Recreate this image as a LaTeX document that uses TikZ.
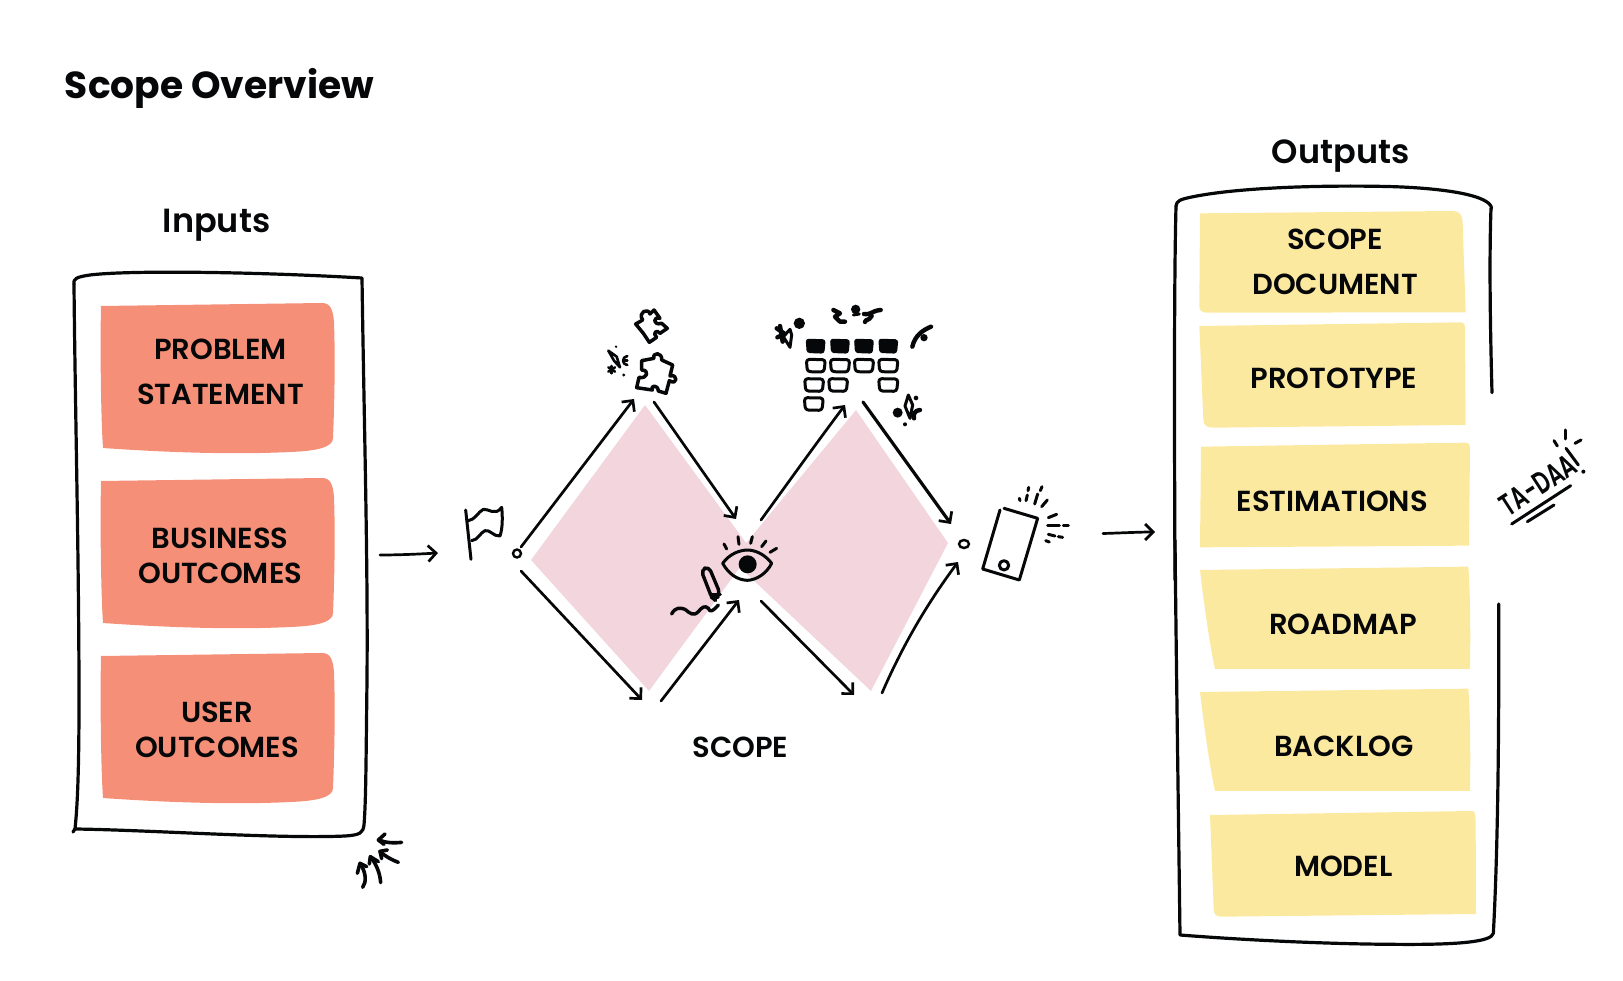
\documentclass[tikz,border=0pt]{standalone}
\usepackage{fontspec}
\usepackage{graphicx}
\usetikzlibrary{arrows.meta,shapes.geometric}
\setmainfont{Poppins}
\newfontfamily\pmed{Poppins SemiBold}
\newfontfamily\pbold{Poppins}[UprightFont=* Bold]
\definecolor{salmon}{HTML}{F58F78}
\definecolor{butter}{HTML}{FCE9A0}
\definecolor{petal}{HTML}{F3D5DE}
\definecolor{ink}{HTML}{050708}
\tikzset{
  x=1pt,y=-1pt,
  stickytext/.style={font=\pmed\fontsize{29}{45}\selectfont,align=center,inner sep=0pt,text=ink},
  stickytextb/.style={stickytext,font=\pmed\fontsize{29}{35}\selectfont},
  heading/.style={font=\pmed\fontsize{33.5}{40}\selectfont,anchor=base,inner sep=0pt,text=ink},
  sketch/.style={draw=ink,line width=3.2pt,line cap=round,line join=round},
  link/.style={draw=ink,line width=2.7pt,line cap=round,-{Straight Barb[length=8pt,width=16pt,line width=2.7pt]}},
  doodle/.style={draw=ink,line width=3pt,line cap=round,line join=round},
  puzzle/.style={draw=ink,line width=3.5pt,line cap=round,line join=round},
  heavy doodle/.style={draw=ink,line width=4.4pt,line cap=round,line join=round},
  thin doodle/.style={draw=ink,line width=2.6pt,line cap=round,line join=round},
  z3/.style={shift={(440,290)},scale=1/3},
  z4/.style={shift={(740,290)},scale=1/3},
  z6/.style={shift={(1160,120)},scale=1/3},
  z7/.style={shift={(1160,540)},scale=1/3},
  z8/.style={shift={(660,520)},scale=1/3},
  z9/.style={shift={(1480,420)},scale=1/3},
  z10/.style={shift={(330,810)},scale=1/3},
}
\newcommand{\salmonnote}[1]{%
  \fill[salmon,shift={(0,#1)}] (101,306) -- (322,303) .. controls (330,303) and (333,309) .. (334,322)
    .. controls (335,350) and (335,390) .. (333,438) .. controls (333,447) and (318,451) .. (290,452)
    .. controls (230,455) and (160,452) .. (103,448) .. controls (101,420) and (100,350) .. (101,306) -- cycle;}
\begin{document}
\begin{tikzpicture}
\useasboundingbox (0,0) rectangle (1623,981);
% titles
\node[heading,font=\pbold\fontsize{37.6}{44}\selectfont] (title) at (219.5,99) {Scope Overview};
\node[heading] (inputs) at (216.5,232.5) {Inputs};
\node[heading] (outputs) at (1340.7,164) {Outputs};
% inputs frame
\draw[sketch] (74,284) .. controls (73,279) and (76,277) .. (90,275) .. controls (130,270) and (260,272) .. (362,278)
  .. controls (364,420) and (368,560) .. (367,680) .. controls (366,760) and (366,800) .. (364,825)
  .. controls (363,833) and (360,835) .. (345,836) .. controls (280,839) and (150,830) .. (75,829) -- (73,832);
\draw[sketch] (74,284) .. controls (75,400) and (79,560) .. (79,700) .. controls (79,780) and (77,810) .. (75,829);
\salmonnote{0}\salmonnote{175}\salmonnote{350}
\node[stickytext] (n1) at (220.5,372) {PROBLEM\\STATEMENT};
\node[stickytextb] (n2) at (220.2,556) {BUSINESS\\OUTCOMES};
\node[stickytextb] (n3) at (217,730) {USER\\OUTCOMES};
% corner arrows
\begin{scope}[z10,line width=3.6pt,draw=ink,line cap=round,line join=round]
\draw (215,97) .. controls (190,100) and (165,98) .. (147,90);
\draw (165,72) -- (145,90) -- (162,103);
\draw (205,157) .. controls (185,150) and (165,138) .. (150,125);
\draw (172,120) -- (150,124) -- (155,146);
\draw (152,218) .. controls (150,190) and (140,165) .. (123,142);
\draw (118,162) -- (121,140) -- (145,155);
\draw (98,232) .. controls (110,215) and (108,190) .. (92,162);
\draw (82,190) -- (90,160) -- (110,170);
\end{scope}
% diamonds
\fill[petal] (531,560) -- (645,405) -- (752,551) -- (649,691) -- cycle;
\fill[petal] (732,560) -- (856,410) -- (948,543) -- (871,691) -- cycle;
% flag
\begin{scope}[z3]
\draw[doodle] (77,660) -- (93,808);
\draw[doodle] (85,692) .. controls (105,690) and (115,665) .. (130,658) .. controls (145,655) and (165,680) .. (185,652)
  .. controls (188,680) and (188,715) .. (180,738) .. controls (160,740) and (150,718) .. (135,722)
  .. controls (120,728) and (115,750) .. (95,752);
\end{scope}
% junctions and arrows
\node[draw=ink,line width=2.4pt,circle,inner sep=0pt,minimum size=8pt] (startdot) at (517,553.5) {};
\node[draw=ink,line width=2.4pt,ellipse,inner sep=0pt,minimum width=10pt,minimum height=8pt] (enddot) at (964,544) {};
\coordinate (inS) at (380,555); \coordinate (inE) at (438,553);
\coordinate (a1S) at (521,547); \coordinate (a1E) at (634,399);
\coordinate (a2S) at (654,402); \coordinate (a2E) at (736,519);
\coordinate (a3S) at (521,571); \coordinate (a3E) at (642,700);
\coordinate (a4S) at (661,701); \coordinate (a4E) at (739,600);
\coordinate (a5S) at (761,520); \coordinate (a5E) at (845,405);
\coordinate (a6S) at (863,402); \coordinate (a6E) at (951,524);
\coordinate (a7S) at (761,601); \coordinate (a7E) at (854,695);
\coordinate (a8S) at (882,693); \coordinate (a8E) at (958,562);
\coordinate (outS) at (1103,533.5); \coordinate (outE) at (1155,532);
\draw[link] (inS) .. controls (400,555) and (420,554) .. (inE);
\draw[link] (a1S) -- (a1E);
\draw[link] (a2S) -- (a2E);
\draw[link] (a3S) -- (a3E);
\draw[link] (a4S) -- (a4E);
\draw[link] (a5S) .. controls (790,480) and (815,445) .. (a5E);
\draw[link,line width=3.2pt] (a6S) -- (a6E);
\draw[link] (a7S) -- (a7E);
\draw[link] (a8S) .. controls (905,640) and (930,600) .. (a8E);
\draw[link] (outS) .. controls (1120,533) and (1140,532) .. (outE);
% SCOPE
\node[heading,font=\pmed\fontsize{29}{30}\selectfont] (scope) at (740.3,757) {SCOPE};
% eye & pencil
\begin{scope}[z8]
\draw[doodle] (188,130) .. controls (210,100) and (240,90) .. (265,90) .. controls (295,92) and (320,110) .. (335,130)
  .. controls (320,160) and (290,180) .. (262,181) .. controls (230,180) and (205,160) .. (188,130) -- cycle;
\fill[ink] (263,133) circle[radius=27];
\draw[doodle] (192,72) -- (200,87);
\draw[doodle] (234,50) -- (237,73);
\draw[doodle] (277,50) -- (272,70);
\draw[doodle] (318,63) -- (305,80);
\draw[doodle] (350,85) -- (330,97);
\draw[doodle,line width=3.4pt,rounded corners=5pt] (123,150) -- (146,139) -- (181,222) -- (165,240) -- (155,232) -- cycle;
\draw[doodle] (150,222) -- (181,222);
\draw[doodle,line width=3.4pt] (35,282) .. controls (45,262) and (60,262) .. (75,268) .. controls (90,280) and (100,290) .. (115,275)
  .. controls (125,262) and (135,255) .. (145,265) .. controls (150,280) and (160,272) .. (175,255);
\end{scope}
% puzzle pieces
\begin{scope}[z3]
\draw[puzzle] (590,293) -- (597,262) .. controls (622,268) and (630,240) .. (605,240) -- (605,212) -- (642,205)
  .. controls (636,186) and (668,186) .. (665,210) -- (698,225) -- (690,258)
  .. controls (714,250) and (714,288) .. (688,272) -- (678,310) -- (655,303)
  .. controls (654,283) and (630,285) .. (637,300) -- cycle;
\draw[puzzle] (587,102) -- (608,90) .. controls (592,66) and (625,52) .. (630,72) -- (642,60) -- (660,85)
  .. controls (638,78) and (638,108) .. (665,100) -- (682,115) -- (660,130)
  .. controls (650,116) and (636,130) .. (650,142) -- (628,157) -- (610,130) -- cycle;
\draw[thin doodle] (505,182) -- (530,200) -- (540,232) -- (522,212) -- cycle;
\draw[thin doodle] (505,232) -- (525,245);\draw[thin doodle] (515,228) -- (515,250);\draw[thin doodle] (505,245) -- (525,232);
\fill[ink] (551,255) circle[radius=5];\fill[ink] (528,170) circle[radius=4];
\draw[thin doodle] (562,198) .. controls (545,200) and (545,225) .. (562,225);
\draw[thin doodle] (550,212) -- (562,212);
\end{scope}
% grid
\begin{scope}[z4]
\foreach \xx/\xw in {197/257,270/330,342/402,415/475}{
  \fill[ink,rounded corners=3pt] (\xx,146) -- (\xw,148) -- (\xw-4,191) -- (\xx+3,189) -- cycle;}
\foreach \xx/\yy/\xw in {199/208/256,271/208/329,343/208/401,416/208/474,194/266/251,266/266/323,416/266/474,193/323/250}{
  \draw[doodle,rounded corners=3pt] (\xx,\yy) -- (\xw,\yy+1) -- (\xw-4,\yy+38) -- (\xx+3,\yy+37) -- cycle;}
\draw[heavy doodle] (110,115) -- (135,132) -- (112,142);
\draw[heavy doodle] (120,108) -- (128,155);
\draw[doodle] (150,118) -- (130,140) -- (150,172) -- (155,135) -- cycle;
\fill[ink] (178,100) circle[radius=17];
\draw[heavy doodle] (280,60) -- (300,70) -- (285,80) -- (300,95) -- (315,95);
\fill[ink] (347,58) circle[radius=14];
\draw[doodle] (340,75) -- (358,72);
\draw[heavy doodle] (372,72) .. controls (395,75) and (395,62) .. (422,60);
\draw[heavy doodle] (395,78) .. controls (385,95) and (378,85) .. (375,96);
\draw[heavy doodle] (517,170) .. controls (525,135) and (550,120) .. (573,110);
\fill[ink] (552,143) circle[radius=11];
\draw[doodle] (505,315) -- (495,348) -- (510,385) -- (518,345) -- cycle;
\fill[ink] (473,368) circle[radius=15];\fill[ink] (528,324) circle[radius=7];\fill[ink] (495,403) circle[radius=6];
\draw[heavy doodle] (540,360) .. controls (525,360) and (518,375) .. (522,385);
\end{scope}
% phone
\begin{scope}[z4]
\draw[doodle] (792,655) -- (893,685) -- (838,870) -- (728,837) -- (780,660);
\draw[doodle] (792,826) circle[radius=14];
\draw[doodle] (858,632) -- (862,615);
\draw[doodle] (838,625) -- (840,632);
\draw[doodle] (866,592) -- (864,602);
\draw[doodle] (884,642) -- (893,612);
\draw[doodle] (906,590) -- (901,602);
\draw[doodle] (905,650) -- (922,630);
\draw[doodle] (925,683) -- (950,673);
\draw[doodle] (923,708) -- (958,708);
\draw[doodle] (970,707) -- (985,707);
\draw[doodle] (925,733) -- (945,738);
\draw[doodle] (955,740) -- (968,742);
\draw[doodle] (917,752) -- (928,756);
\end{scope}
% output frame
\begin{scope}[z6]
\draw[sketch] (48,258) .. controls (50,242) and (60,238) .. (100,230) .. controls (250,200) and (520,195) .. (700,200)
  .. controls (850,205) and (990,225) .. (995,265);
\draw[sketch] (993,265) .. controls (988,400) and (990,600) .. (996,818);
\draw[sketch] (48,258) .. controls (42,500) and (43,900) .. (45,1380);
\fill[butter] (120,280) -- (880,273) .. controls (900,274) and (907,285) .. (908,310) -- (917,577) -- (140,578)
  .. controls (122,577) and (117,570) .. (118,550) -- cycle;
\fill[butter] (118,618) -- (905,607) .. controls (912,607) and (914,612) .. (915,625) -- (917,915) -- (160,923)
  .. controls (140,922) and (132,918) .. (130,900) -- cycle;
\fill[butter] (123,980) -- (915,968) .. controls (925,968) and (930,972) .. (930,985) -- (927,1277) -- (120,1282) -- cycle;
\end{scope}
\begin{scope}[z7]
\draw[sketch] (45,0) .. controls (48,300) and (55,800) .. (60,1185) .. controls (250,1200) and (500,1212) .. (700,1213)
  .. controls (900,1215) and (995,1205) .. (1000,1180) .. controls (1010,1000) and (1018,700) .. (1016,192);
\fill[butter] (120,90) -- (925,80) .. controls (930,150) and (932,250) .. (930,387) -- (165,387) .. controls (150,320) and (130,180) .. (120,90) -- cycle;
\fill[butter] (120,456) -- (925,446) .. controls (930,516) and (932,616) .. (930,753) -- (165,753) .. controls (150,686) and (130,546) .. (120,456) -- cycle;
\fill[butter] (150,825) -- (935,813) .. controls (945,813) and (946,820) .. (947,850) -- (948,1122) -- (185,1130)
  .. controls (168,1130) and (162,1125) .. (161,1105) -- cycle;
\end{scope}
\node[stickytext] (o1) at (1335,262) {SCOPE\\DOCUMENT};
\node[stickytext] (o2) at (1334,378) {PROTOTYPE};
\node[stickytext] (o3) at (1332.3,501) {ESTIMATIONS};
\node[stickytext] (o4) at (1343,624.5) {ROADMAP};
\node[stickytext] (o5) at (1343.8,746.5) {BACKLOG};
\node[stickytext] (o6) at (1343.3,866.5) {MODEL};
% TA-DAA
\node[rotate=33,inner sep=0pt,text=ink,font=\pmed\fontsize{31}{33}\selectfont] (tada) at (1538,485) {\scalebox{.68}[1]{TA-DAA}};
\begin{scope}[z9]
\draw[doodle] (95,312) -- (272,197);
\draw[doodle] (142,305) -- (222,255);
\draw[doodle] (258,85) -- (295,135);
\fill[ink] (310,155) circle[radius=6];
\draw[doodle] (222,62) -- (232,78);
\draw[doodle] (255,30) -- (255,57);
\draw[doodle] (285,70) -- (303,60);
\end{scope}
\end{tikzpicture}
\end{document}
